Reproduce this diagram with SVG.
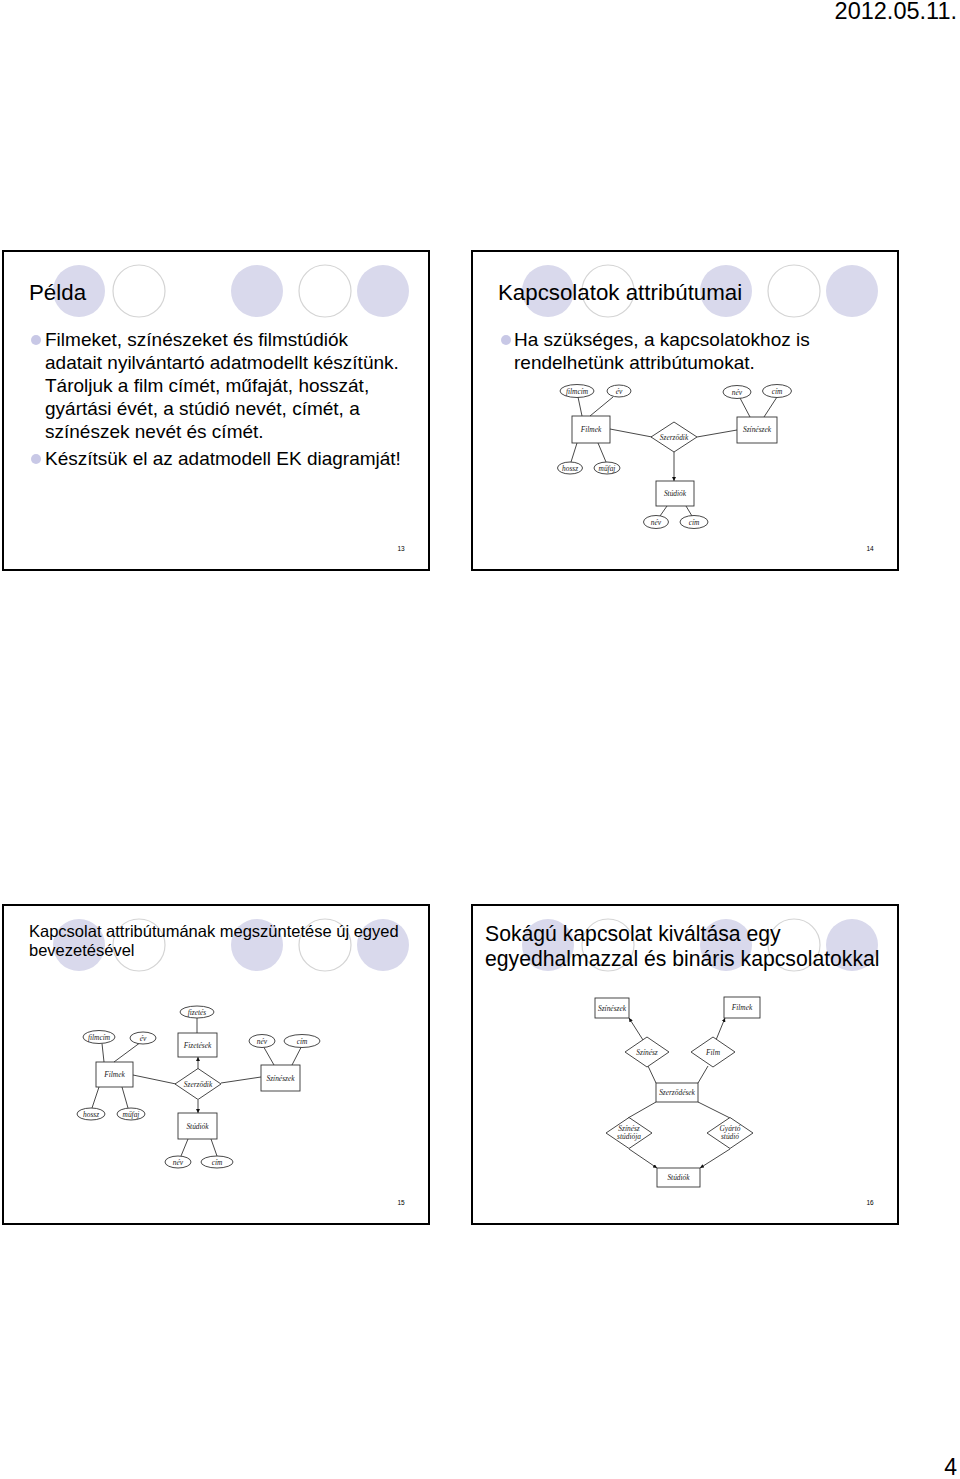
<svg xmlns="http://www.w3.org/2000/svg" width="960" height="1479" viewBox="0 0 960 1479">
<style>
.frame{fill:#fff;stroke:#000;stroke-width:2}
.cf{fill:#d9d9ec}
.co{fill:none;stroke:#d4d4d4;stroke-width:1.2}
.t{font-family:"Liberation Sans",Arial,sans-serif;fill:#000}
.h1{font-size:22.3px}
.h2{font-size:16.5px}
.h3{font-size:21.2px}
.b{font-size:19px}
.bul{fill:#c8c8e6}
.pn{font-size:6.5px;text-anchor:middle}
.s{fill:none;stroke:#333;stroke-width:0.9}
.e{fill:#fff;stroke:#333;stroke-width:0.9}
.l{fill:none;stroke:#333;stroke-width:0.9}
.la{fill:none;stroke:#333;stroke-width:0.9;marker-end:url(#ah)}
.et{font-family:"Liberation Serif","Times New Roman",serif;font-style:italic;font-size:7.4px;text-anchor:middle;fill:#222}
</style>
<defs>
<marker id="ah" viewBox="0 0 10 10" refX="10" refY="5" markerWidth="4" markerHeight="4" markerUnits="userSpaceOnUse" orient="auto">
<path d="M0,0 L10,5 L0,10 Z" fill="#111"/>
</marker>
<g id="deco">
<circle class="cf" cx="79" cy="291" r="26"/>
<circle class="co" cx="139" cy="291" r="26"/>
<circle class="cf" cx="257" cy="291" r="26"/>
<circle class="co" cx="325" cy="291" r="26"/>
<circle class="cf" cx="383" cy="291" r="26"/>
</g>
</defs>
<rect width="960" height="1479" fill="#fff"/>
<text class="t" x="957" y="19" font-size="23.5" text-anchor="end">2012.05.11.</text>
<text class="t" x="957" y="1475" font-size="23" text-anchor="end">4</text>

<!-- Slide 13 -->
<g id="slide13">
<rect class="frame" x="3" y="251" width="426" height="319"/>
<use href="#deco"/>
<text class="t h1" x="29" y="300">Példa</text>
<circle class="bul" cx="36" cy="340" r="5"/>
<text class="t b" x="45" y="346">Filmeket, színészeket és filmstúdiók</text>
<text class="t b" x="45" y="369">adatait nyilvántartó adatmodellt készítünk.</text>
<text class="t b" x="45" y="392">Tároljuk a film címét, műfaját, hosszát,</text>
<text class="t b" x="45" y="415">gyártási évét, a stúdió nevét, címét, a</text>
<text class="t b" x="45" y="438">színészek nevét és címét.</text>
<circle class="bul" cx="36" cy="459" r="5"/>
<text class="t b" x="45" y="465">Készítsük el az adatmodell EK diagramját!</text>
<text class="t pn" x="401" y="551">13</text>
</g>

<!-- Slide 14 -->
<g id="slide14">
<rect class="frame" x="472" y="251" width="426" height="319"/>
<use href="#deco" x="469"/>
<text class="t h1" x="498" y="300">Kapcsolatok attribútumai</text>
<circle class="bul" cx="506" cy="340" r="5"/>
<text class="t b" x="514" y="346">Ha szükséges, a kapcsolatokhoz is</text>
<text class="t b" x="514" y="369">rendelhetünk attribútumokat.</text>
<text class="t pn" x="870" y="551">14</text>
</g>
<g id="s14-connectors">
<line class="l" x1="578" y1="397" x2="582" y2="416"/>
<line class="l" x1="613" y1="397" x2="590" y2="416"/>
<line class="l" x1="571" y1="462" x2="577" y2="443"/>
<line class="l" x1="606" y1="462" x2="598" y2="443"/>
<line class="l" x1="610" y1="429" x2="652" y2="437"/>
<line class="l" x1="697" y1="437" x2="737" y2="430"/>
<line class="l" x1="740" y1="398" x2="750" y2="417"/>
<line class="l" x1="777" y1="397" x2="764" y2="417"/>
<line class="la" x1="674" y1="452" x2="674" y2="481"/>
<line class="l" x1="667" y1="506" x2="660" y2="516"/>
<line class="l" x1="686" y1="506" x2="692" y2="516"/>
</g>
<g id="s14-filmcim"><ellipse class="e" cx="577" cy="391" rx="17" ry="6.5"/><text class="et" x="577" y="393.5">filmcím</text></g>
<g id="s14-ev"><ellipse class="e" cx="619" cy="391" rx="12" ry="6"/><text class="et" x="619" y="393.5">év</text></g>
<g id="s14-hossz"><ellipse class="e" cx="570" cy="468" rx="12.5" ry="6"/><text class="et" x="570" y="470.5">hossz</text></g>
<g id="s14-mufaj"><ellipse class="e" cx="607" cy="468" rx="13" ry="6"/><text class="et" x="607" y="470.5">műfaj</text></g>
<g id="s14-nev1"><ellipse class="e" cx="737" cy="392" rx="14" ry="6.5"/><text class="et" x="737" y="394.5">név</text></g>
<g id="s14-cim1"><ellipse class="e" cx="777" cy="391" rx="14.5" ry="6.5"/><text class="et" x="777" y="393.5">cím</text></g>
<g id="s14-nev2"><ellipse class="e" cx="656" cy="522" rx="12.5" ry="6.5"/><text class="et" x="656" y="524.5">név</text></g>
<g id="s14-cim2"><ellipse class="e" cx="694" cy="522" rx="14" ry="6.5"/><text class="et" x="694" y="524.5">cím</text></g>
<g id="s14-filmek"><rect class="s" x="572" y="416" width="38" height="27"/><text class="et" x="591" y="432">Filmek</text></g>
<g id="s14-szineszek"><rect class="s" x="737" y="417" width="40" height="26"/><text class="et" x="757" y="432">Színészek</text></g>
<g id="s14-studiok"><rect class="s" x="656" y="481" width="38" height="25"/><text class="et" x="675" y="496">Stúdiók</text></g>
<g id="s14-szerzodik"><polygon class="e" points="674,422 697,437 674,452 651,437"/><text class="et" x="674" y="439.5">Szerződik</text></g>

<!-- Slide 15 -->
<g id="slide15">
<rect class="frame" x="3" y="905" width="426" height="319"/>
<use href="#deco" y="654"/>
<text class="t h2" x="29" y="937">Kapcsolat attribútumának megszüntetése új egyed</text>
<text class="t h2" x="29" y="956">bevezetésével</text>
<text class="t pn" x="401" y="1205">15</text>
</g>
<g id="s15-connectors">
<line class="l" x1="197" y1="1018" x2="197" y2="1033"/>
<line class="la" x1="198" y1="1069" x2="198" y2="1057"/>
<line class="la" x1="198" y1="1100" x2="198" y2="1113"/>
<line class="l" x1="102" y1="1043.5" x2="104" y2="1062"/>
<line class="l" x1="139" y1="1043.5" x2="114" y2="1062"/>
<line class="l" x1="92" y1="1108" x2="99" y2="1087"/>
<line class="l" x1="128" y1="1108" x2="122" y2="1087"/>
<line class="l" x1="133" y1="1075" x2="176" y2="1084"/>
<line class="l" x1="221" y1="1083" x2="261" y2="1077"/>
<line class="l" x1="264" y1="1047.5" x2="274" y2="1065"/>
<line class="l" x1="301" y1="1047.5" x2="292" y2="1065"/>
<line class="l" x1="188" y1="1139" x2="181" y2="1156"/>
<line class="l" x1="211" y1="1139" x2="217" y2="1156"/>
</g>
<g id="s15-fizetes"><ellipse class="e" cx="197" cy="1012" rx="17" ry="6"/><text class="et" x="197" y="1014.5">fizetés</text></g>
<g id="s15-filmcim"><ellipse class="e" cx="99" cy="1037" rx="16" ry="6.5"/><text class="et" x="99" y="1039.5">filmcím</text></g>
<g id="s15-ev"><ellipse class="e" cx="143" cy="1038" rx="13" ry="6"/><text class="et" x="143" y="1040.5">év</text></g>
<g id="s15-hossz"><ellipse class="e" cx="91" cy="1114" rx="14" ry="6"/><text class="et" x="91" y="1116.5">hossz</text></g>
<g id="s15-mufaj"><ellipse class="e" cx="131" cy="1114" rx="14" ry="6"/><text class="et" x="131" y="1116.5">műfaj</text></g>
<g id="s15-nev1"><ellipse class="e" cx="262" cy="1041" rx="13" ry="6.5"/><text class="et" x="262" y="1043.5">név</text></g>
<g id="s15-cim1"><ellipse class="e" cx="302" cy="1041" rx="18" ry="6.5"/><text class="et" x="302" y="1043.5">cím</text></g>
<g id="s15-nev2"><ellipse class="e" cx="178" cy="1162" rx="13" ry="6"/><text class="et" x="178" y="1164.5">név</text></g>
<g id="s15-cim2"><ellipse class="e" cx="217" cy="1162" rx="16" ry="6"/><text class="et" x="217" y="1164.5">cím</text></g>
<g id="s15-fizetesek"><rect class="s" x="178" y="1033" width="39" height="24"/><text class="et" x="197.5" y="1047.5">Fizetések</text></g>
<g id="s15-filmek"><rect class="s" x="96" y="1062" width="37" height="25"/><text class="et" x="114.5" y="1077">Filmek</text></g>
<g id="s15-szineszek"><rect class="s" x="261" y="1065" width="39" height="26"/><text class="et" x="280.5" y="1080.5">Színészek</text></g>
<g id="s15-studiok"><rect class="s" x="178" y="1113" width="39" height="26"/><text class="et" x="197.5" y="1128.5">Stúdiók</text></g>
<g id="s15-szerzodik"><polygon class="e" points="198,1068.5 221,1084 198,1099.5 175,1084"/><text class="et" x="198" y="1086.5">Szerződik</text></g>

<!-- Slide 16 -->
<g id="slide16">
<rect class="frame" x="472" y="905" width="426" height="319"/>
<use href="#deco" x="469" y="654"/>
<text class="t h3" x="485" y="941">Sokágú kapcsolat kiváltása egy</text>
<text class="t h3" x="485" y="966">egyedhalmazzal és bináris kapcsolatokkal</text>
<text class="t pn" x="870" y="1205">16</text>
</g>
<g id="s16-connectors">
<line class="la" x1="643" y1="1040" x2="629" y2="1018"/>
<line class="la" x1="716" y1="1040" x2="725" y2="1018"/>
<line class="l" x1="648" y1="1066" x2="656" y2="1083"/>
<line class="l" x1="708" y1="1066" x2="698" y2="1083"/>
<line class="l" x1="656" y1="1102" x2="628" y2="1118"/>
<line class="l" x1="698" y1="1102" x2="730" y2="1118"/>
<line class="la" x1="629" y1="1149" x2="657" y2="1168"/>
<line class="la" x1="730" y1="1149" x2="700" y2="1168"/>
</g>
<g id="s16-szineszek"><rect class="s" x="595" y="998" width="34" height="20"/><text class="et" x="612" y="1010.5">Színészek</text></g>
<g id="s16-filmek"><rect class="s" x="724" y="997" width="36" height="21"/><text class="et" x="742" y="1010">Filmek</text></g>
<g id="s16-szerzodesek"><rect class="s" x="656" y="1083" width="42" height="19"/><text class="et" x="677" y="1095">Szerződések</text></g>
<g id="s16-studiok"><rect class="s" x="657" y="1168" width="43" height="19"/><text class="et" x="678.5" y="1180">Stúdiók</text></g>
<g id="s16-szinesz"><polygon class="e" points="647,1037 669,1052 647,1067 625,1052"/><text class="et" x="647" y="1054.5">Színész</text></g>
<g id="s16-film"><polygon class="e" points="713,1037 735,1052 713,1067 691,1052"/><text class="et" x="713" y="1054.5">Film</text></g>
<g id="s16-szinesz-studioja"><polygon class="e" points="629,1117.5 652,1133 629,1148.5 606,1133"/><text class="et" x="629" y="1131">Színész</text><text class="et" x="629" y="1139">stúdiója</text></g>
<g id="s16-gyarto-studio"><polygon class="e" points="730,1117.5 753,1133 730,1148.5 707,1133"/><text class="et" x="730" y="1131">Gyártó</text><text class="et" x="730" y="1139">stúdió</text></g>
</svg>
